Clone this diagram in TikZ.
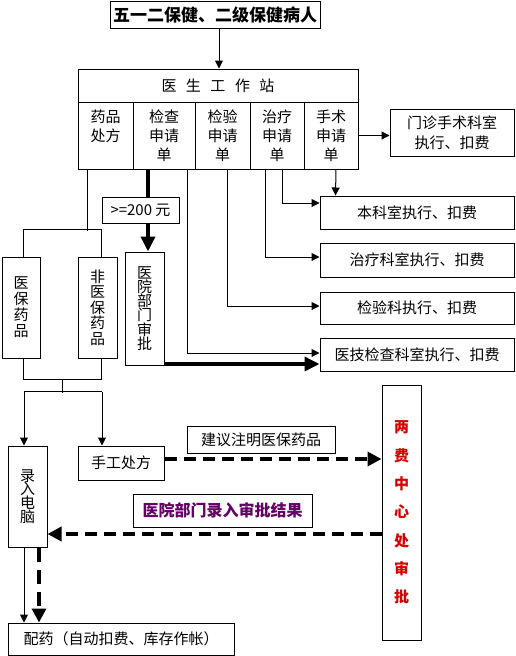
\documentclass[tikz,border=0pt]{standalone}
\usepackage{fontspec}
\setmainfont{Noto Sans CJK SC}
\usetikzlibrary{arrows.meta,calc}
\definecolor{redtxt}{RGB}{215,0,0}
\definecolor{purp}{RGB}{102,0,102}
\tikzset{
  box/.style={draw, line width=1pt, inner sep=0pt, align=center, font=\fontsize{15}{19}\selectfont},
  vbox/.style={box, font=\fontsize{15}{#1}\selectfont},
  ln/.style={line width=1pt},
  arr/.style={line width=1pt, -{Triangle[length=8pt,width=8pt]}},
  heavy/.style={line width=3.5pt},
  heavyarr/.style={line width=3.5pt, -{Triangle[length=15pt,width=14pt]}},
  dasharr/.style={line width=4pt, dash pattern=on 12pt off 7pt, -{Triangle[length=14pt,width=14pt]}},
  vdasharr/.style={line width=4pt, dash pattern=on 14pt off 8pt, -{Triangle[length=14pt,width=14pt]}},
}
\begin{document}
\begin{tikzpicture}[x=1pt,y=-1pt]
\useasboundingbox (0,0) rectangle (515,656);
% top
\node[box, font=\bfseries\fontsize{17}{20}\selectfont, minimum width=210, minimum height=27] (top) at (215,14.5) {五一二保健、二级保健病人};
% station
\node[box, minimum width=280, minimum height=33] (hdr) at (218,85.5) {医\hspace{9.5pt}生\hspace{9.5pt}工\hspace{9.5pt}作\hspace{9.5pt}站};
\node[box, minimum width=55, minimum height=67] (col1) at (105.5,135.5) {药品\\处方\\\phantom{单}};
\node[box, minimum width=62, minimum height=67] (col2) at (164,135.5) {检查\\申请\\单};
\node[box, minimum width=55, minimum height=67] (col3) at (222.5,135.5) {检验\\申请\\单};
\node[box, minimum width=54, minimum height=67] (col4) at (277,135.5) {治疗\\申请\\单};
\node[box, minimum width=54, minimum height=67] (col5) at (331,135.5) {手术\\申请\\单};
% right column
\node[box, font=\fontsize{15}{20}\selectfont, minimum width=124, minimum height=47] (mzs) at (452,132.5) {门诊手术科室\\执行、扣费};
\node[box, minimum width=194, minimum height=33] (bks) at (417,212.5) {本科室执行、扣费};
\node[box, minimum width=194, minimum height=34] (zlk) at (417,260) {治疗科室执行、扣费};
\node[box, minimum width=194, minimum height=32] (jyk) at (417,308) {检验科执行、扣费};
\node[box, minimum width=194, minimum height=33] (yjk) at (417,354.5) {医技检查科室执行、扣费};
% middle
\node[box, minimum width=77, minimum height=26] (ge) at (140.5,210) {>=200 元};
\node[vbox=14.2, minimum width=39, minimum height=113] (yyb) at (144.5,308.5) {医\\院\\部\\门\\审\\批};
\node[vbox=16, minimum width=38, minimum height=101] (yb) at (21,307.5) {医\\保\\药\\品};
\node[vbox=15.5, minimum width=39, minimum height=101] (fyb) at (97.5,307.5) {非\\医\\保\\药\\品};
% bottom
\node[vbox=13.8, minimum width=39, minimum height=101] (lr) at (27.5,496.5) {录\\入\\电\\脑};
\node[box, minimum width=86, minimum height=34] (sg) at (121,463) {手工处方};
\node[box, minimum width=148, minimum height=27] (jy) at (261,439.5) {建议注明医保药品};
\node[box, font=\bfseries\fontsize{15}{28.3}\selectfont, text=redtxt, minimum width=39, minimum height=255] (lf) at (401.5,512.5) {两\\费\\中\\心\\处\\审\\批};
\node[box, font=\bfseries\fontsize{16}{19}\selectfont, text=purp, minimum width=179, minimum height=33] (jg) at (222.5,510.5) {医院部门录入审批结果};
\node[box, minimum width=226, minimum height=32] (py) at (121,639) {配药（自动扣费、库存作帐）};
% connectors
\draw[arr] ([xshift=4pt]top.south) -- ([xshift=1pt]hdr.north);
\draw[arr] (col5.east) -- (col5.east -| mzs.west);
% drugs branch
\draw[ln] ([xshift=-18.5pt]col1.south) -- ++(0,61);
\draw[ln] ([xshift=2pt]yb.north) -- ++(0,-27) -| ([xshift=4pt]fyb.north);
\draw[ln] ([xshift=2pt]yb.south) -- ++(0,21) -| ([xshift=4pt]fyb.south);
\draw[ln] ($(yb.south)!0.5!(fyb.south)+(3.5,21)$) -- ++(0,13);
\draw[ln] ($(lr.north)+(-3.5,-54)$) -- ($(sg.north)+(-19,-54)$);
\draw[arr] ($(lr.north)+(-3.5,-54)$) -- ([xshift=-3.5pt]lr.north);
\draw[arr] ($(sg.north)+(-19,-54)$) -- ([xshift=-19pt]sg.north);
% >=200 route
\draw[heavy] ([xshift=-16pt]col2.south) -- ([xshift=7.5pt]ge.north);
\draw[heavyarr] ([xshift=7.5pt]ge.south) -- ([xshift=3.5pt]yyb.north);
\draw[heavyarr] ($(yyb.south east)+(0,-1.5)$) coordinate (h1) -- (h1 -| yjk.west);
% application routes
\draw[arr] ([xshift=23pt]col2.south) |- ([yshift=1.5pt]yjk.west);
\draw[arr] ([xshift=4.5pt]col3.south) |- ([yshift=2pt]jyk.west);
\draw[arr] ([xshift=-12pt]col4.south) |- ([yshift=3pt]zlk.west);
\draw[arr] ([xshift=5pt]col4.south) |- ([yshift=9.5pt]bks.west);
\draw[arr] ([xshift=5pt]col5.south) -- ([xshift=16pt]bks.north west);
% dashed
\draw[dasharr] ([yshift=4pt]sg.east) coordinate (d1) -- (d1 -| lf.west);
\path ([yshift=-37.5pt]lr.east) coordinate (d2);
\draw[dasharr] (d2 -| lf.west) -- (d2);
\draw[arr] ([xshift=-3.5pt]lr.south) coordinate (e1) -- (e1 |- py.north);
\draw[vdasharr] ([xshift=11.5pt]lr.south) coordinate (e2) -- (e2 |- py.north);
\end{tikzpicture}
\end{document}
